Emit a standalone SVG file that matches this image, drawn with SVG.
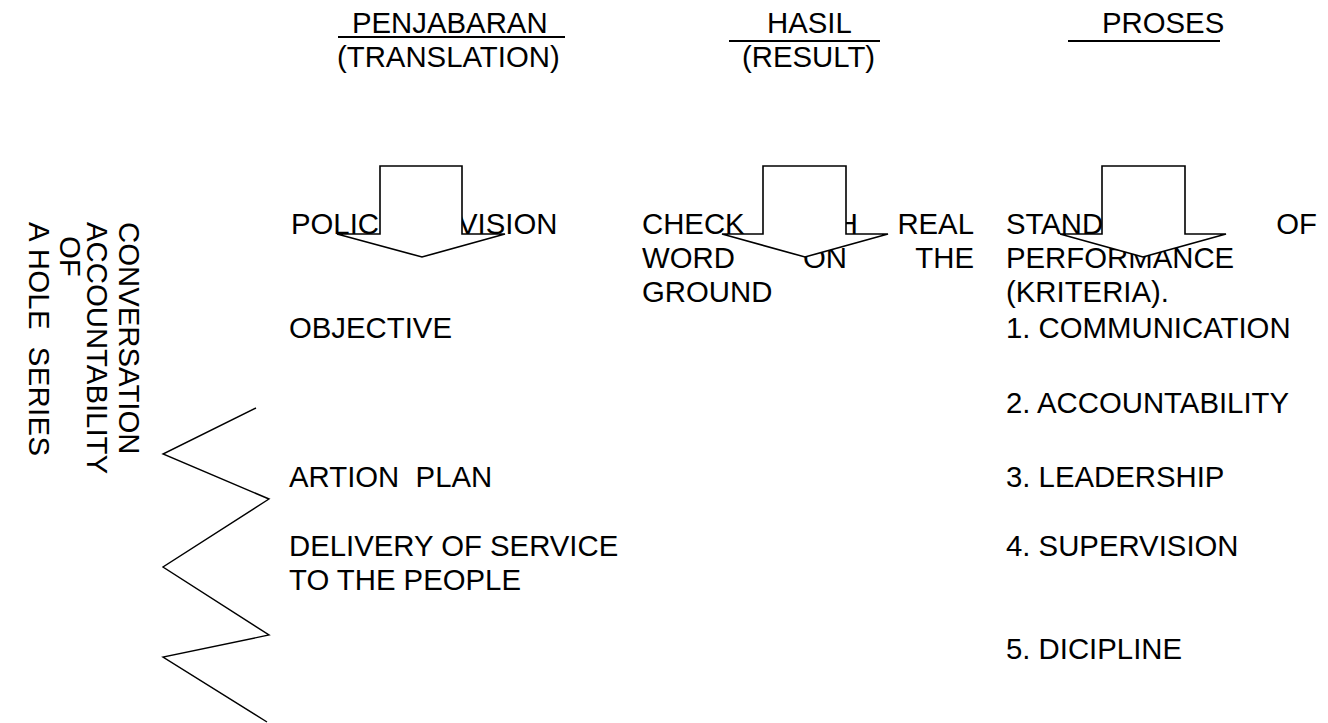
<svg xmlns="http://www.w3.org/2000/svg" width="1328" height="723" viewBox="0 0 1328 723">
  <style>
    text { font-family: "Liberation Sans", Arial, sans-serif; font-size: 29.33px; fill: #000; }
    .rule { stroke: #000; stroke-width: 2; fill: none; }
    .arrow { fill: #fff; stroke: #000; stroke-width: 1.6; stroke-linejoin: miter; }
    .zig { fill: none; stroke: #000; stroke-width: 1.4; }
  </style>
  <rect width="1328" height="723" fill="#fff"/>

  <!-- column headings -->
  <g id="head-penjabaran">
    <text x="352" y="33">PENJABARAN</text>
    <line class="rule" x1="338" y1="37" x2="565" y2="37"/>
    <text x="337" y="67">(TRANSLATION)</text>
  </g>
  <g id="head-hasil">
    <text x="767" y="33">HASIL</text>
    <line class="rule" x1="729" y1="41" x2="880" y2="41"/>
    <text x="742" y="67">(RESULT)</text>
  </g>
  <g id="head-proses">
    <text x="1102" y="33">PROSES</text>
    <line class="rule" x1="1068" y1="41" x2="1220" y2="41"/>
  </g>

  <!-- side caption, set vertically -->
  <g id="side-caption">
    <text transform="translate(119,222) rotate(90)">CONVERSATION</text>
    <text transform="translate(87,222) rotate(90)">ACCOUNTABILITY</text>
    <text transform="translate(60,236) rotate(90)">OF</text>
    <text transform="translate(29,222) rotate(90)" xml:space="preserve" textLength="234" lengthAdjust="spacing">A HOLE  SERIES</text>
  </g>

  <!-- translation column -->
  <g id="col-translation">
    <text x="291" y="234">POLICY</text>
    <text x="458" y="234">VISION</text>
    <text x="289" y="338">OBJECTIVE</text>
    <text x="289" y="487" xml:space="preserve">ARTION  PLAN</text>
    <text x="289" y="556">DELIVERY OF SERVICE</text>
    <text x="289" y="590">TO THE PEOPLE</text>
  </g>

  <!-- result column -->
  <g id="col-result">
    <text x="642" y="234">CHECK</text>
    <text x="783" y="234">WITH</text>
    <text x="974" y="234" text-anchor="end">REAL</text>
    <text x="642" y="268">WORD</text>
    <text x="803" y="268">ON</text>
    <text x="974" y="268" text-anchor="end">THE</text>
    <text x="642" y="302">GROUND</text>
  </g>

  <!-- process column -->
  <g id="col-process">
    <text x="1006" y="234">STANDARD</text>
    <text x="1317" y="234" text-anchor="end">OF</text>
    <text x="1006" y="268">PERFORMANCE</text>
    <text x="1006" y="302">(KRITERIA).</text>
    <text x="1006" y="338">1. COMMUNICATION</text>
    <text x="1006" y="413">2. ACCOUNTABILITY</text>
    <text x="1006" y="487">3. LEADERSHIP</text>
    <text x="1006" y="556">4. SUPERVISION</text>
    <text x="1006" y="659">5. DICIPLINE</text>
  </g>

  <!-- downward block arrows over each column, and the zigzag edge -->
  <g id="connectors">
    <polygon class="arrow" points="380,166 462,166 462,234 505,234 422,257 337,234 380,234"/>
    <polygon class="arrow" points="763,166 846,166 846,234 888,234 805,257 722,234 763,234"/>
    <polygon class="arrow" points="1102,166 1185,166 1185,234 1226,234 1143,257 1060,234 1102,234"/>
    <polyline class="zig" points="256,408 163,454 269,499 163,567 269,635 163,657 267,722"/>
  </g>
</svg>
